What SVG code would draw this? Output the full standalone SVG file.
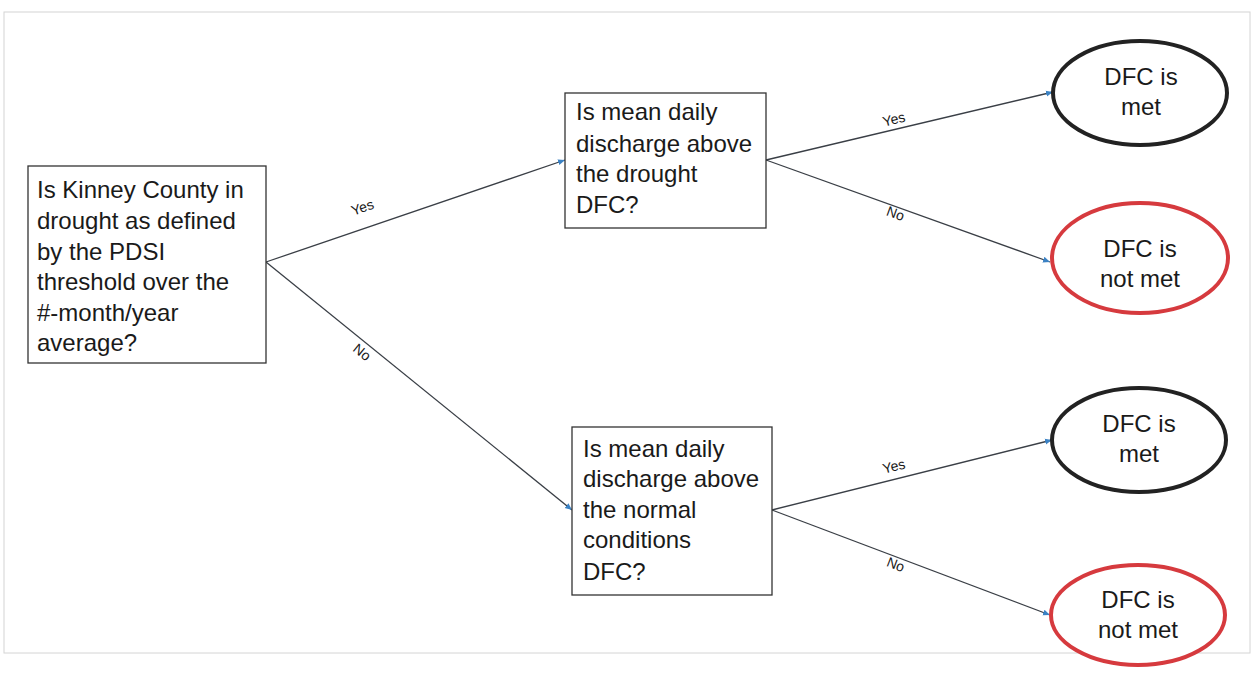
<svg xmlns="http://www.w3.org/2000/svg" width="1254" height="682" viewBox="0 0 1254 682">
<style>
.box{fill:#fff;stroke:#333;stroke-width:1.3}
.t{font-family:"Liberation Sans",Arial,sans-serif;font-size:24px;fill:#1a1a1a}
.c{text-anchor:middle}
.lbl{font-family:"Liberation Sans",Arial,sans-serif;font-size:14px;fill:#1a1a1a;text-anchor:middle}
.edge{stroke:#3a3f46;stroke-width:1.3;fill:none;marker-end:url(#ah)}
.met{fill:#fff;stroke:#222;stroke-width:4}
.not{fill:#fff;stroke:#d63a3e;stroke-width:4}
</style>
<defs>
<marker id="ah" markerWidth="8" markerHeight="8" refX="7" refY="4" orient="auto" markerUnits="userSpaceOnUse">
<path d="M0,1 L7,4 L0,7 Z" fill="#3b82c4"/>
</marker>
</defs>
<rect x="0" y="0" width="1254" height="682" fill="#fff"/>
<rect x="4" y="12" width="1246" height="641" fill="none" stroke="#d4d4d4" stroke-width="1"/>
<g id="connectors">
<line class="edge" x1="266" y1="262" x2="565" y2="160"/>
<line class="edge" x1="266" y1="262" x2="572" y2="510"/>
<line class="edge" x1="766" y1="160" x2="1053" y2="92"/>
<line class="edge" x1="766" y1="160" x2="1050" y2="262"/>
<line class="edge" x1="772" y1="510" x2="1052" y2="440"/>
<line class="edge" x1="772" y1="510" x2="1050" y2="615"/>
<text class="lbl" transform="translate(364,212) rotate(-19)">Yes</text>
<text class="lbl" transform="translate(359,356) rotate(39)">No</text>
<text class="lbl" transform="translate(895,124) rotate(-14)">Yes</text>
<text class="lbl" transform="translate(894,218) rotate(20)">No</text>
<text class="lbl" transform="translate(895,471) rotate(-14)">Yes</text>
<text class="lbl" transform="translate(894,569) rotate(21)">No</text>
</g>
<g id="n-drought">
<rect class="box" x="28" y="166" width="238" height="197"/>
<text class="t" x="37" y="198">Is Kinney County in</text>
<text class="t" x="37" y="229">drought as defined</text>
<text class="t" x="37" y="260">by the PDSI</text>
<text class="t" x="37" y="290">threshold over the</text>
<text class="t" x="37" y="321">#-month/year</text>
<text class="t" x="37" y="351">average?</text>
</g>
<g id="n-q-drought">
<rect class="box" x="565" y="93" width="201" height="135"/>
<text class="t" x="576" y="120">Is mean daily</text>
<text class="t" x="576" y="152">discharge above</text>
<text class="t" x="576" y="182">the drought</text>
<text class="t" x="576" y="213">DFC?</text>
</g>
<g id="n-q-normal">
<rect class="box" x="572" y="427" width="200" height="168"/>
<text class="t" x="583" y="457">Is mean daily</text>
<text class="t" x="583" y="487">discharge above</text>
<text class="t" x="583" y="518">the normal</text>
<text class="t" x="583" y="548">conditions</text>
<text class="t" x="583" y="580">DFC?</text>
</g>
<g id="n-met-1">
<ellipse class="met" cx="1140" cy="93" rx="87" ry="52"/>
<text class="t c" x="1141" y="85">DFC is</text>
<text class="t c" x="1141" y="115">met</text>
</g>
<g id="n-notmet-1">
<ellipse class="not" cx="1140" cy="258" rx="88" ry="55"/>
<text class="t c" x="1140" y="257">DFC is</text>
<text class="t c" x="1140" y="287">not met</text>
</g>
<g id="n-met-2">
<ellipse class="met" cx="1139" cy="440" rx="87" ry="52"/>
<text class="t c" x="1139" y="432">DFC is</text>
<text class="t c" x="1139" y="462">met</text>
</g>
<g id="n-notmet-2">
<ellipse class="not" cx="1138" cy="615" rx="87" ry="50"/>
<text class="t c" x="1138" y="608">DFC is</text>
<text class="t c" x="1138" y="638">not met</text>
</g>
</svg>
